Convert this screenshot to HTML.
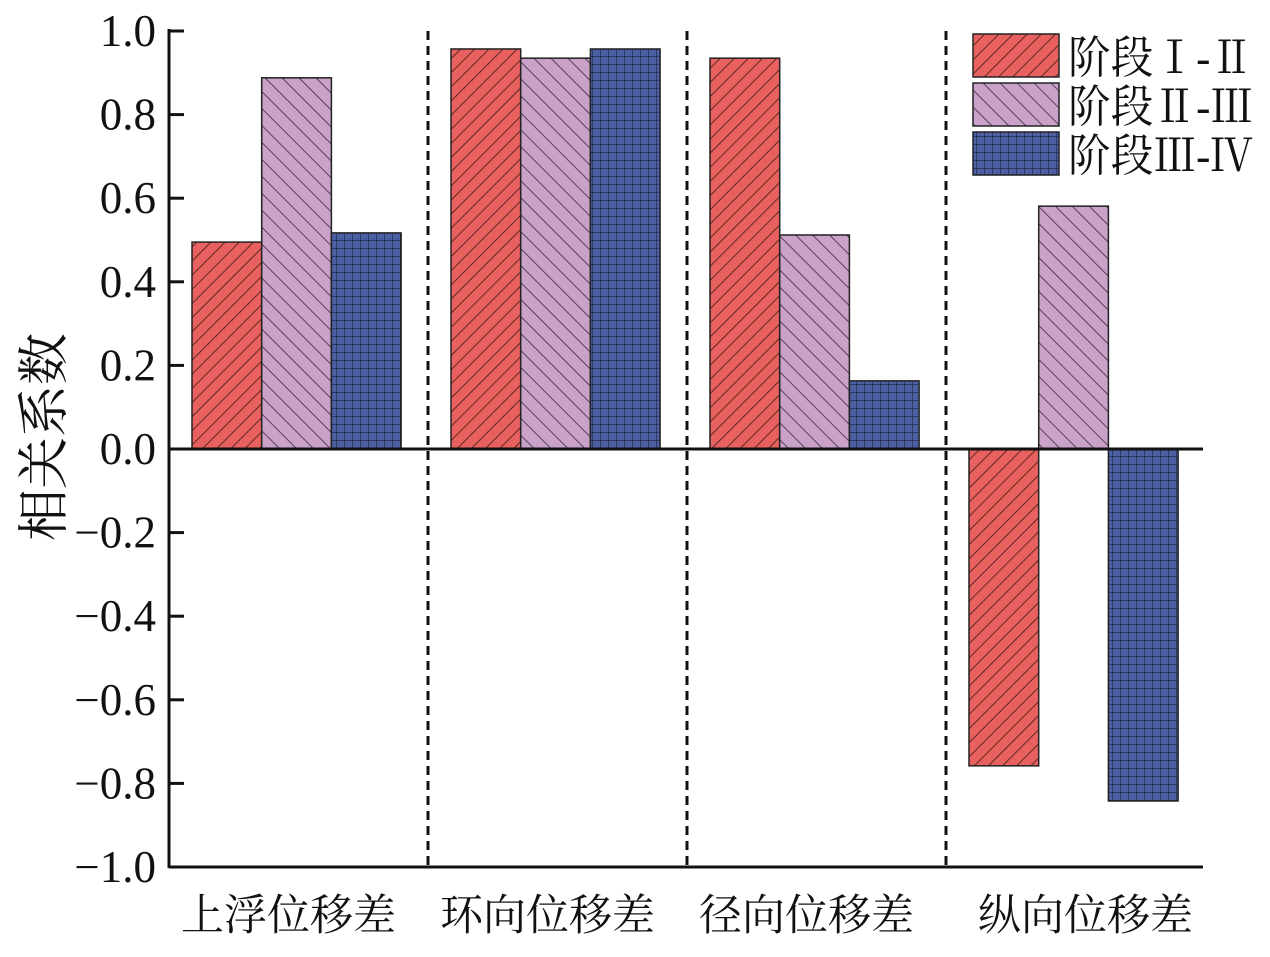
<!DOCTYPE html>
<html><head><meta charset="utf-8"><style>
html,body{margin:0;padding:0;background:#fff;}
svg text{font-family:"Liberation Serif","Noto Serif CJK SC",serif;fill:#111;}
</style></head><body>
<svg id="chart" width="1270" height="952" viewBox="0 0 1270 952" xmlns="http://www.w3.org/2000/svg">
<defs>
<pattern id="pRed" width="10" height="10" patternUnits="userSpaceOnUse" patternTransform="rotate(45)">
<rect width="10" height="10" fill="#e8615f"/><line x1="0" y1="0" x2="0" y2="10" stroke="#3a1a1a" stroke-width="1.6"/></pattern>
<pattern id="pPink" width="12" height="12" patternUnits="userSpaceOnUse" patternTransform="rotate(-45)">
<rect width="12" height="12" fill="#c9a1c9"/><line x1="0" y1="0" x2="0" y2="12" stroke="#3a2a3a" stroke-width="1.6"/></pattern>
<pattern id="pBlue" width="8" height="8" patternUnits="userSpaceOnUse">
<rect width="8" height="8" fill="#4d5fa3"/><path d="M0 0H8M0 0V8" stroke="#1a2040" stroke-width="1.2"/></pattern>
</defs>
<g id="bars"></g>
<g id="axes"></g>
</svg>
<script>
const categories = ["上浮位移差","环向位移差","径向位移差","纵向位移差"];
const seriesNames = ["阶段Ⅰ-Ⅱ","阶段Ⅱ-Ⅲ","阶段Ⅲ-Ⅳ"];
const stage12 = [0.495, 0.957, 0.935, -0.758];
const stage23 = [0.888, 0.935, 0.512, 0.581];
const stage34 = [0.517, 0.957, 0.163, -0.842];
const yTicks = [1.0,0.8,0.6,0.4,0.2,0.0,-0.2,-0.4,-0.6,-0.8,-1.0];
const fills = ["url(#pRed)","url(#pPink)","url(#pBlue)"];
const NS="http://www.w3.org/2000/svg";
const X0=169, X1=1203, groupW=259;
function y(v){return 449 - v*418;}
function gx(i){return X0 + i*groupW;}
function mk(tag,attrs,parent){const e=document.createElementNS(NS,tag);for(const k in attrs)e.setAttribute(k,attrs[k]);parent.appendChild(e);return e;}
const bars=document.getElementById('bars'), axes=document.getElementById('axes');
const series=[stage12,stage23,stage34];
series.forEach((arr,s)=>{
  arr.forEach((v,i)=>{
    const x=gx(i)+23+s*69.7;
    const r=mk('rect',{x:x,y:Math.min(y(v),y(0)),width:69.7,height:Math.abs(y(v)-y(0)),fill:fills[s],stroke:'#222','stroke-width':1.5},bars);
    
    
  });
});
for(let i=1;i<categories.length;i++){
  const l=mk('line',{x1:gx(i),x2:gx(i),y1:31,y2:867,stroke:'#111','stroke-width':3,'stroke-dasharray':'9,6'},axes);
  
  
}
const ya=mk('line',{x1:X0,x2:X0,y1:29,y2:868,stroke:'#111','stroke-width':3},axes);


const xa=mk('line',{x1:X0,x2:X1,y1:867,y2:867,stroke:'#111','stroke-width':3},axes);


const zl=mk('line',{x1:X0,x2:X1,y1:y(0),y2:y(0),stroke:'#111','stroke-width':3},axes);


yTicks.forEach(t=>{
  const tk=mk('line',{x1:X0,x2:X0+15,y1:y(t),y2:y(t),stroke:'#111','stroke-width':3},axes);
  
  
  const tx=mk('text',{x:156,y:y(t)+15,'text-anchor':'end','font-size':45},axes);
  tx.textContent=(t<0?'−':'')+Math.abs(t).toFixed(1);
  
  
});
categories.forEach((c,i)=>{
  const tx=mk('text',{x:gx(i)+groupW/2-10+(i==3?20:0),y:930,'text-anchor':'middle','font-size':43},axes);
  tx.textContent=c;
  
  
});
const yt=mk('text',{x:0,y:0,'text-anchor':'middle','font-size':52,transform:'translate(62,437) rotate(-90)'},axes);
yt.textContent='相关系数';


seriesNames.forEach((n,s)=>{
  const ly=34+s*49;
  const r=mk('rect',{x:973,y:ly,width:86,height:43,fill:fills[s],stroke:'#222','stroke-width':1.5},axes);
  
  
  const tx=mk('text',{x:1068,y:ly+39,'font-size':45,textLength:185,lengthAdjust:'spacingAndGlyphs'},axes);
  tx.textContent=n;
  
  
});
</script>
</body></html>
